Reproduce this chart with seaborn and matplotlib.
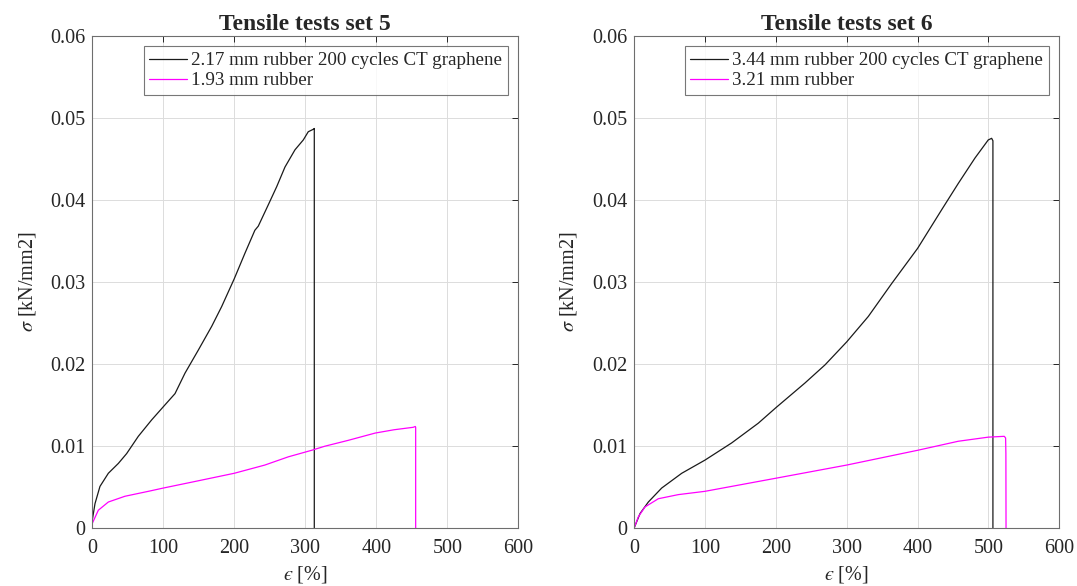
import numpy as np
import pandas as pd
import matplotlib
matplotlib.use("Agg")
import matplotlib.pyplot as plt
import seaborn as sns

# Set 5
x5_ct = [0, 3.8, 10.8, 22.6, 36.7, 48.4, 64.8, 83.6, 100, 116.5, 130.6, 149.3,
         168.2, 182.2, 200, 215, 229, 233.8, 247.9, 259.7, 271.4, 285.5, 297.2,
         304.2, 311.3, 312.7, 312.7]
y5_ct = [0.0010, 0.0030, 0.0051, 0.0067, 0.0079, 0.0091, 0.0112, 0.0132, 0.0148,
         0.0164, 0.0189, 0.0217, 0.0246, 0.0270, 0.0304, 0.0335, 0.0363, 0.0368,
         0.0394, 0.0416, 0.0440, 0.0461, 0.0473, 0.0483, 0.0486, 0.0487, 0.0]
x5_rub = [0, 8.5, 22.6, 46, 78.9, 100, 144.6, 200, 243, 276, 309, 327.7, 360,
          398.6, 425, 452, 455, 455.5, 455.5]
y5_rub = [0.0006, 0.0022, 0.0032, 0.0039, 0.0045, 0.0049, 0.0057, 0.0067, 0.0077,
          0.0087, 0.0095, 0.0100, 0.0107, 0.0116, 0.0120, 0.0123, 0.0124, 0.0123, 0.0]

# Set 6
x6_ct = [0, 8.5, 20.2, 39, 67.3, 100, 137.8, 175.3, 200.3, 241.2, 269.4, 300,
         330.5, 363.4, 400.1, 434, 457.4, 481, 499.7, 504.5, 506.3, 506.3]
y6_ct = [0, 0.0018, 0.0032, 0.0049, 0.0067, 0.0083, 0.0104, 0.0128, 0.0147, 0.0177,
         0.0199, 0.0227, 0.0258, 0.0298, 0.0341, 0.0388, 0.0420, 0.0451, 0.0473,
         0.0475, 0.0472, 0.0]
x6_rub = [0, 6.1, 15.5, 34.3, 62.5, 100, 200.3, 300, 400.1, 457.4, 499.7, 522.3,
          524.2, 524.6, 524.8]
y6_rub = [0, 0.0014, 0.0026, 0.0036, 0.0041, 0.0045, 0.0061, 0.0077, 0.0095, 0.0106,
          0.0111, 0.0112, 0.0110, 0.0091, 0.0]

titles = ["Tensile tests set 5", "Tensile tests set 6"]
labels5 = ["2.17 mm rubber 200 cycles CT graphene", "1.93 mm rubber"]
labels6 = ["3.44 mm rubber 200 cycles CT graphene", "3.21 mm rubber"]
xticks = [0, 100, 200, 300, 400, 500, 600]
yticks = [0, 0.01, 0.02, 0.03, 0.04, 0.05, 0.06]
ytick_labels = ["0", "0.01", "0.02", "0.03", "0.04", "0.05", "0.06"]

sns.set_style("white")
plt.rcParams["font.family"] = ["Liberation Serif", "DejaVu Serif"]
plt.rcParams["mathtext.fontset"] = "stix"

axc = "#262626"
fig = plt.figure(figsize=(10.77, 5.86), dpi=100)
ax1 = fig.add_axes([0.0857, 0.0985, 0.3955, 0.8406])
ax2 = fig.add_axes([0.5887, 0.0985, 0.3949, 0.8406])

sets = [
    (ax1, x5_ct, y5_ct, x5_rub, y5_rub, labels5, titles[0]),
    (ax2, x6_ct, y6_ct, x6_rub, y6_rub, labels6, titles[1]),
]

for ax, xa, ya, xb, yb, labs, title in sets:
    df = pd.concat([
        pd.DataFrame({"x": xa, "y": ya, "s": labs[0]}),
        pd.DataFrame({"x": xb, "y": yb, "s": labs[1]}),
    ])
    sns.lineplot(data=df, x="x", y="y", hue="s", palette=["#1a1a1a", "#ff00ff"],
                 sort=False, estimator=None, linewidth=0.9, ax=ax)
    ax.set_xlim(0, 600)
    ax.set_ylim(0, 0.06)
    ax.set_xticks(xticks)
    ax.set_yticks(yticks)
    ax.set_yticklabels(ytick_labels)
    ax.grid(True, color="#dcdcdc", linewidth=0.7)
    ax.tick_params(direction="in", length=4, width=0.7, colors=axc, labelsize=14.5,
                   top=True, right=True)
    ax.tick_params(axis="x", pad=8)
    ax.tick_params(axis="y", pad=5)
    for sp in ax.spines.values():
        sp.set_color("#6e6e6e")
        sp.set_linewidth(0.8)
    ax.set_title(title, fontsize=17, fontweight="bold", pad=4)
    ax.set_xlabel("$\u03f5$ [%]", fontsize=14.5, color=axc, labelpad=4)
    ax.set_ylabel(r"$\sigma$ [kN/mm2]", fontsize=14.5, color=axc, labelpad=9)
    leg = ax.legend(loc="upper right", fontsize=13.7, frameon=True, fancybox=False,
                    borderaxespad=0.55, borderpad=0.3, handletextpad=0.2,
                    labelspacing=0.15, handlelength=2.0)
    leg.get_frame().set_edgecolor("#555555")
    leg.get_frame().set_linewidth(0.8)

fig.savefig("out.png", dpi=100)
